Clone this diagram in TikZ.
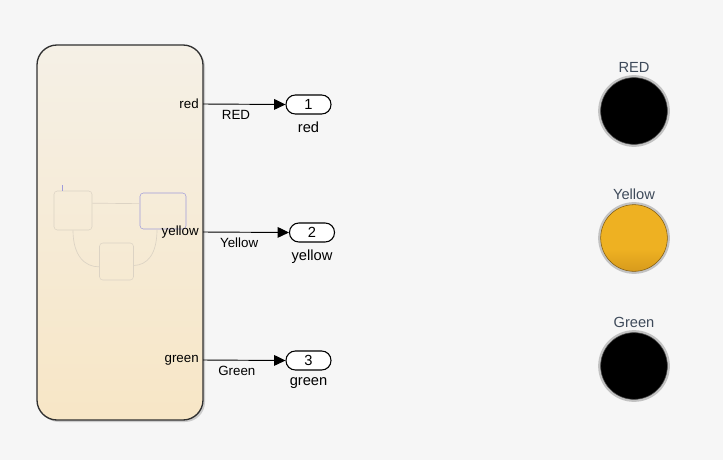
\documentclass[tikz,border=0pt]{standalone}
\usepackage{fontspec}
\setmainfont{Liberation Sans}
\usetikzlibrary{positioning,arrows.meta,shadows}
\definecolor{canvas}{HTML}{F6F6F6}
\definecolor{charttop}{HTML}{F5F0E6}
\definecolor{chartbottom}{HTML}{F7E6C6}
\definecolor{chartedge}{HTML}{303030}
\definecolor{faintedge}{HTML}{DCD3C4}
\definecolor{activeedge}{HTML}{A09CDA}
\definecolor{lampring}{HTML}{C2C2C2}
\definecolor{lamptext}{HTML}{3E4A5A}
\definecolor{lampyellow}{HTML}{EEB122}
\definecolor{lampyellowdark}{HTML}{D6991C}
\pgfdeclareverticalshading{lampglow}{100bp}{color(0bp)=(lampyellowdark); color(25bp)=(lampyellowdark); color(42bp)=(lampyellow); color(100bp)=(lampyellow)}
\tikzset{
  chart/.style={draw=chartedge, line width=1pt, rounded corners=15pt,
    top color=charttop, bottom color=chartbottom,
    drop shadow={shadow xshift=1.5pt, shadow yshift=-1.5pt, opacity=0.35},
    minimum width=124.5pt, minimum height=281.25pt},
  substate/.style={draw=faintedge, rounded corners=2.5pt, inner sep=0pt},
  portlabel/.style={anchor=east, inner sep=1pt, font=\fontsize{10}{12}\selectfont},
  signal/.style={font=\fontsize{10}{12}\selectfont, inner sep=1pt},
  outport/.style={draw=black, line width=0.8pt, rounded corners=7pt,
    fill=white, minimum width=33.75pt, minimum height=14.25pt, inner sep=0pt,
    font=\fontsize{11}{13}\selectfont},
  outname/.style={font=\fontsize{11}{13}\selectfont, inner sep=1pt},
  wire/.style={line width=0.7pt, -{Triangle[length=8.5pt,width=8pt]}},
  lamp/.style={circle, draw=lampring, line width=1.8pt, minimum size=52pt, inner sep=0pt},
  lamplabel/.style={text=lamptext, font=\fontsize{11}{13}\selectfont, inner sep=1pt}
}
\begin{document}
\begin{tikzpicture}[x=0.75pt,y=-0.75pt]
  \useasboundingbox[fill=canvas] (0,0) rectangle (723,460);

  % chart block
  \node[chart] (Chart) at (120,232.5) {};

  % faint substates inside the chart
  \node[substate, minimum width=28.5pt, minimum height=29.25pt] (SubOne) at (73,210.5) {};
  \node[substate, draw=activeedge, minimum width=34.5pt, minimum height=27pt] (SubTwo) at (163,211) {};
  \node[substate, minimum width=25.5pt, minimum height=27.75pt] (SubThree) at (116.5,261.5) {};
  \coordinate (DefaultTop) at (62,185);
  \draw[activeedge, line width=0.4pt] (DefaultTop) -- (DefaultTop |- SubOne.north);
  \draw[faintedge, line width=0.5pt] ([yshift=5.5pt]SubOne.east) -- ([yshift=5.5pt]SubTwo.west);
  \draw[faintedge, line width=0.5pt] (SubOne.south) .. controls (73,256) and (85,267) .. ([yshift=-4pt]SubThree.west);
  \draw[faintedge, line width=0.5pt] ([xshift=-4.5pt]SubTwo.south) .. controls (157,255) and (147,265) .. ([yshift=-3pt]SubThree.east);

  % ports on the chart edge
  \coordinate (RedPort) at (203,104);
  \coordinate (YellowPort) at (203,232);
  \coordinate (GreenPort) at (203,360);
  \node[portlabel] (RedLabel) at ([xshift=-2pt]RedPort) {red};
  \node[portlabel] (YellowLabel) at ([xshift=-2pt]YellowPort) {yellow};
  \node[portlabel] (GreenLabel) at ([xshift=-2pt]GreenPort) {green};

  % outports
  \node[outport] (OutRed) at (308.5,104.5) {1};
  \node[outport] (OutYellow) at (312,232.5) {2};
  \node[outport] (OutGreen) at (308.5,360.5) {3};
  \node[outname, below=4pt of OutRed] (OutRedName) {red};
  \node[outname, below=4pt of OutYellow] (OutYellowName) {yellow};
  \node[outname, below=4pt of OutGreen] (OutGreenName) {green};

  % signal lines
  \draw[wire] (RedPort) -- (OutRed.west) node[signal, pos=0.4, below=3pt] (SigRed) {RED};
  \draw[wire] (YellowPort) -- (OutYellow.west) node[signal, pos=0.42, below=3pt] (SigYellow) {Yellow};
  \draw[wire] (GreenPort) -- (OutGreen.west) node[signal, pos=0.41, below=3pt] (SigGreen) {Green};

  % lamps
  \node[lamp, fill=black] (LampRed) at (634,111) {};
  \node[lamp, shading=lampglow] (LampYellow) at (634,238) {};
  \node[lamp, fill=black] (LampGreen) at (634,366) {};
  \draw[black!70, line width=0.4pt] (LampRed) circle[radius=25pt];
  \draw[lampyellowdark!60!black, line width=0.4pt] (LampYellow) circle[radius=25pt];
  \draw[black!70, line width=0.4pt] (LampGreen) circle[radius=25pt];
  \node[lamplabel, above=1pt of LampRed] (LampRedName) {RED};
  \node[lamplabel, above=1pt of LampYellow] (LampYellowName) {Yellow};
  \node[lamplabel, above=1pt of LampGreen] (LampGreenName) {Green};
\end{tikzpicture}
\end{document}
